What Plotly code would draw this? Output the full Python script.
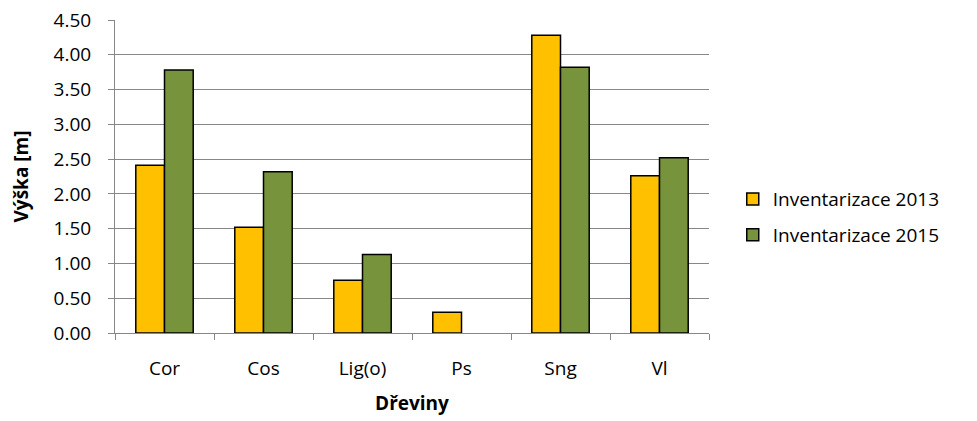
import plotly.graph_objects as go

categories = ["Cor", "Cos", "Lig(o)", "Ps", "Sng", "Vl"]
values_2013 = [2.41, 1.52, 0.76, 0.30, 4.28, 2.26]
values_2015 = [3.78, 2.32, 1.13, None, 3.82, 2.52]
y_ticks = [0, 0.5, 1, 1.5, 2, 2.5, 3, 3.5, 4, 4.5]
y_tick_labels = [f"{v:.2f}" for v in y_ticks]

font_family = "Open Sans, Liberation Sans, sans-serif"

fig = go.Figure()
fig.add_trace(go.Bar(x=categories, y=values_2013, name="Inventarizace 2013", legendgroup="a",
                     marker=dict(color="#FFC000", line=dict(color="black", width=1.5))))
fig.add_trace(go.Bar(x=categories, y=values_2015, name="Inventarizace 2015", legendgroup="b",
                     marker=dict(color="#77933C", line=dict(color="black", width=1.5))))

fig.update_layout(
    width=969, height=413,
    margin=dict(l=107, r=268, t=12, b=88),
    paper_bgcolor="white", plot_bgcolor="white",
    barmode="group", bargap=0.42, bargroupgap=0,
    font=dict(family=font_family, size=19, color="black"),
    legend=dict(x=1.04, y=0.37, yanchor="middle", xanchor="left",
                font=dict(size=19), tracegroupgap=8, itemwidth=30),
    xaxis=dict(
        title=dict(text="<b>Dřeviny</b>", font=dict(size=19), standoff=16),
        showline=True, linecolor="#878787", linewidth=1,
        ticks="outside", tickson="boundaries", ticklen=6, tickcolor="#878787",
        ticklabelstandoff=18,
        showgrid=False, automargin=False,
    ),
    yaxis=dict(
        title=dict(text="<b>Výška [m]</b>", font=dict(size=19), standoff=24),
        range=[0, 4.5], tickvals=y_ticks, ticktext=y_tick_labels,
        showline=True, linecolor="#878787", linewidth=1,
        ticks="outside", ticklen=6, tickcolor="#878787",
        ticklabelstandoff=13, ticklabeloverflow="allow",
        showgrid=True, gridcolor="#878787", gridwidth=1,
        zeroline=False, automargin=False,
    ),
)

fig.write_html("out.html")
